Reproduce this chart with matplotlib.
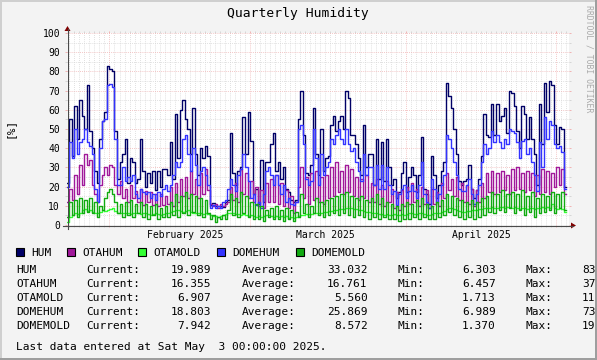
from __future__ import annotations
import datetime as dt
import matplotlib
matplotlib.use('Agg')
import matplotlib.pyplot as plt
import matplotlib.dates as mdates
from matplotlib.lines import Line2D
from matplotlib.patches import Polygon, Rectangle
import numpy as np

W, H = 597, 360
X0, Y0, XSIZE, YSIZE = 67, 225, 502, 192  # plot area in image pixels

start = dt.datetime(2025, 1, 23, 13)
end = dt.datetime(2025, 5, 3, 13)
data_start = dt.datetime(2025, 1, 23, 12)
step_hours = 12

hum = [
    22, 55, 36, 62, 45, 65, 57, 50, 73, 49,
    40, 28, 22, 45, 54, 59, 83, 81, 80, 49,
    24, 33, 37, 45, 22, 35, 33, 22, 24, 45,
    28, 20, 27, 22, 28, 18, 28, 20, 29, 29,
    26, 43, 24, 58, 35, 60, 65, 55, 50, 37,
    61, 37, 26, 40, 35, 41, 36, 10.6, 11.5, 10,
    10, 9.7, 9.5, 12, 13, 48, 27, 21, 28, 30,
    56, 37, 59, 44, 16, 19, 11, 34, 12, 33,
    33, 42, 48, 28, 33, 24, 30, 19, 17, 13,
    12, 13, 55, 70, 47, 27, 26, 31, 61, 37,
    26, 50, 28, 35, 36, 52, 57, 49, 54, 57,
    50, 70, 66, 47, 47, 42, 35, 26, 52, 30,
    37, 37, 21, 45, 24, 43, 23, 45, 30, 21,
    24, 14, 17, 27, 33, 17, 25, 30, 26, 17,
    26, 46, 19, 16, 11, 36, 26, 14, 21, 28,
    33, 74, 67, 61, 50, 37, 23, 21, 23, 24,
    31, 19, 14, 18, 24, 36, 58, 47, 46, 63,
    47, 63, 54, 57, 61, 48, 70, 69, 62, 49,
    40, 62, 58, 45, 56, 45, 37, 21, 63, 42,
    74, 59, 75, 73, 52, 42, 51, 50, 20]

otahum = [
    12, 19, 13, 26, 16, 31, 21, 37, 31, 34,
    21, 16, 12, 21, 26, 30, 26, 31, 30, 21,
    16, 23, 14, 19, 12, 21, 14, 17.5, 12, 19,
    10.6, 17.5, 12, 17, 10.6, 16, 10, 16, 10.6, 15,
    11, 20, 10, 22, 12, 24, 15, 25, 14, 28,
    16, 24, 14, 27, 16, 29, 18, 11, 10, 11,
    9, 11, 10, 11, 12, 20, 13, 22, 12, 29,
    16, 27, 14, 23, 12, 20, 10, 18, 9, 22,
    12, 24, 12, 26, 11, 22, 10, 18, 9, 15,
    6.5, 12, 20, 30, 14, 25, 11, 27, 13, 28,
    12, 25, 11, 26, 14, 30, 15, 33, 17, 28,
    16, 31, 17, 29, 15, 25, 13, 24, 14, 26,
    12, 22, 12, 24, 11, 21, 10, 23, 12, 19,
    9, 17, 8, 18, 10, 20, 11, 22, 12, 19,
    10, 20, 11, 18, 9, 19, 11, 17, 10, 22,
    14, 27, 18, 24, 15, 25, 13, 22, 12, 21,
    11, 19, 10, 18, 12, 22, 14, 27, 17, 28,
    16, 27, 17, 28, 18, 26, 16, 29, 18, 30,
    19, 27, 17, 28, 18, 27, 15, 26, 16, 29,
    17, 28, 16, 27, 20, 30, 21, 29, 16.4]

otamold = [
    1.8, 4, 5, 6, 5.5, 6.5, 8, 8.5, 7.5, 8,
    7, 6.5, 6, 7, 8, 7.5, 8, 8.5, 9, 7.5,
    6.5, 6, 6.5, 6, 6, 5.5, 6, 6.5, 6, 5.5,
    6, 6, 5.5, 5, 5.5, 6, 5.5, 5, 5.5, 6,
    6.5, 7, 7.5, 8, 8, 7.5, 7, 7.5, 8, 7,
    6.5, 6, 6.5, 6, 5.5, 6, 5.5, 5, 4.5, 4.5,
    4, 4.5, 5, 5.5, 6, 6.5, 6, 5.5, 5.5, 5,
    5.5, 5, 4.5, 5, 4.5, 4, 4.5, 4, 4.5, 5,
    5, 4.5, 4, 4.5, 4, 4.5, 4, 4.5, 3.5, 4,
    3.5, 4, 4.5, 5, 5, 5.5, 5.5, 5.5, 6, 6,
    6.5, 6.5, 7, 7, 7.5, 7.5, 8, 8, 8.5, 8.5,
    8.5, 9, 9, 9, 8.5, 8.5, 8, 8, 7.5, 7,
    7, 6.5, 6, 6, 5.5, 5.5, 5, 5.5, 5, 5,
    5.5, 5, 5, 5.5, 5, 5.5, 6, 6, 5.5, 5.5,
    6, 6, 5.5, 5, 5, 5.5, 6, 6, 6.5, 7,
    7.5, 8.5, 9, 9, 8.5, 8, 7.5, 7, 7, 7.5,
    7.5, 8, 8, 8, 8.5, 8.5, 9, 9, 9, 9.5,
    9, 9, 9.5, 9.5, 9, 9.5, 9.5, 9, 9.5, 9,
    8.5, 9, 9, 8.5, 9, 9, 8.5, 9, 9, 9.5,
    9, 9.5, 9, 11, 9, 8.5, 9, 8.5, 6.9]

domehum = [
    20, 43, 35, 50, 37, 43, 45, 50, 43, 41,
    37, 19, 12, 40, 54, 55, 73, 73.4, 72, 45,
    21, 21, 30, 23, 25, 23, 26, 16, 14, 19,
    17, 16, 17, 14, 16, 13, 17, 15, 19, 21,
    17.5, 21, 26, 33, 30, 33, 45, 47, 37, 28,
    40, 31, 21, 28, 30, 26, 21, 9, 10.6, 9,
    9.7, 9, 12, 13, 19, 24, 21, 17.5, 26, 29,
    37, 30, 23, 14, 16, 10.6, 12, 9, 16, 28,
    30, 26, 21, 26, 21, 16, 21, 12, 14, 11,
    10.6, 12, 50, 52, 42, 24, 21, 23, 50, 35,
    21, 37, 26, 30, 33, 45, 42, 47, 50, 45,
    42, 50, 42, 38.5, 40, 33, 28, 23, 37, 26,
    30, 30, 21, 31, 19, 31, 19, 30, 21, 16,
    17.5, 10.6, 16, 19, 21, 14, 17.5, 21, 17.5, 14,
    21, 33, 16, 12, 9, 24, 19, 12, 16, 21,
    26, 47, 45, 40, 33, 26, 19, 17.5, 17.5, 21,
    24, 16, 11, 16, 21, 33, 42, 37, 40, 49,
    43, 47, 43, 40, 45, 42, 50, 49, 48, 43,
    35, 44, 45, 37, 40, 33, 26, 17.5, 43, 30,
    56, 45, 54, 52, 42, 40, 41, 38, 18.8]

domemold = [
    4, 12, 5, 13, 4, 14, 6, 13, 7, 14,
    6, 12, 4, 10, 8, 14, 17, 19, 16, 12,
    6, 11, 4, 12, 5, 13, 4, 11, 6, 12,
    4, 11, 3, 10, 5, 11, 3, 9, 4, 10,
    4, 12, 5, 16, 4, 15, 6, 17, 5, 16,
    7, 15, 5, 14, 4, 13, 6, 3, 5, 1.4,
    4, 3, 5, 3, 8, 16, 5, 14, 4, 17,
    6, 15, 4, 12, 3, 11, 3, 10, 2, 8,
    4, 9, 3, 10, 3, 8, 2, 9, 3, 8,
    2, 7, 4, 16, 6, 11, 4, 10, 6, 14,
    5, 12, 4, 13, 5, 14, 6, 15, 5, 16,
    6, 17, 5, 15, 4, 14, 5, 15, 4, 13,
    3, 14, 4, 16, 3, 14, 4, 12, 3, 11,
    3, 10, 2, 11, 3, 12, 3, 11, 4, 13,
    3, 14, 4, 11, 3, 10, 3, 12, 4, 13,
    5, 16, 7, 15, 5, 14, 4, 13, 3, 12,
    4, 13, 3, 12, 4, 14, 5, 15, 7, 17,
    6, 16, 8, 18, 7, 16, 9, 17, 6, 16,
    8, 18, 5, 15, 7, 17, 4, 14, 6, 16,
    7, 15, 8, 17, 6, 16, 9, 17, 7.9]

names = ['HUM', 'OTAHUM', 'OTAMOLD', 'DOMEHUM', 'DOMEMOLD']
colors = ['#000066', '#a0189a', '#33ff33', '#3333ff', '#11aa11']
current = ['19.989', '16.355', '6.907', '18.803', '7.942']
average = ['33.032', '16.761', '5.560', '25.869', '8.572']
minimum = ['6.303', '6.457', '1.713', '6.989', '1.370']
maximum = ['83', '37', '11', '73', '19']  # cut off by the image edge

y_ticks = [0, 10, 20, 30, 40, 50, 60, 70, 80, 90, 100]
month_labels = ['February 2025', 'March 2025', 'April 2025']
month_label_dates = [dt.datetime(2025, 2, 16), dt.datetime(2025, 3, 16), dt.datetime(2025, 4, 16)]

GRID = '#d6d6d6'
MGRID = '#f0b4b4'
AXIS = '#4a4a4a'
ARROW = '#800000'


def fx(px):
    return px / W


def fy(py):
    return 1 - py / H


plt.rcParams['font.family'] = 'DejaVu Sans Mono'
fig = plt.figure(figsize=(W / 100, H / 100), dpi=100, facecolor='#f3f3f3')
ax = fig.add_axes([fx(X0), fy(Y0), XSIZE / W, YSIZE / H])
ax.set_facecolor('white')
for s in ax.spines.values():
    s.set_visible(False)
ax.set_xlim(mdates.date2num(start), mdates.date2num(end))
ax.set_ylim(0, 100)

# grid: dotted inside, short solid ticks outside (rrdtool style)
xt = ax.get_xaxis_transform()
yt = ax.get_yaxis_transform()
ey, ex = 2 / YSIZE, 2 / XSIZE
days = mdates.drange(dt.datetime(2025, 1, 24), dt.datetime(2025, 5, 4), dt.timedelta(days=1))
months = mdates.date2num([dt.datetime(2025, m, 1) for m in (2, 3, 4, 5)])
minor_days = days[~np.isin(days, months)]


def vgrid(xs, color):
    ax.vlines(xs, 0, 1, transform=xt, colors=color, lw=0.6, linestyles=(0, (1, 1.5)), zorder=1)
    ax.vlines(xs, -ey, 0, transform=xt, colors=color, lw=0.72, clip_on=False, zorder=1)
    ax.vlines(xs, 1, 1 + ey, transform=xt, colors=color, lw=0.72, clip_on=False, zorder=1)


def hgrid(ys, color):
    ax.hlines(ys, 0, 1, transform=yt, colors=color, lw=0.6, linestyles=(0, (1, 1.5)), zorder=1)
    ax.hlines(ys, -ex, 0, transform=yt, colors=color, lw=0.72, clip_on=False, zorder=1)
    ax.hlines(ys, 1, 1 + ex, transform=yt, colors=color, lw=0.72, clip_on=False, zorder=1)


vgrid(minor_days, GRID)
hgrid(np.arange(5, 100, 10), GRID)
vgrid(months, MGRID)
hgrid(y_ticks, MGRID)

# data
t0 = mdates.date2num(data_start)
for vals, c in zip([hum, otahum, otamold, domehum, domemold], colors):
    v = np.asarray(vals, dtype=float)
    xs = t0 + np.arange(len(v) + 1) * step_hours / 24
    ax.step(xs, np.append(v, v[-1]), where='post', color=c, lw=1.0, zorder=3)

ax.set_yticks(y_ticks)
ax.set_yticklabels([str(v) for v in y_ticks])
ax.set_xticks(mdates.date2num(month_label_dates))
ax.set_xticklabels(month_labels)
ax.tick_params(length=0, labelsize=7, colors='black')
ax.tick_params(axis='y', pad=5)
ax.tick_params(axis='x', pad=3.8)

# axes with arrows
fig.add_artist(Line2D([fx(X0 - 4), fx(X0 + XSIZE + 4)], [fy(Y0 + 0.5)] * 2, color=AXIS, lw=0.8))
fig.add_artist(Line2D([fx(X0 + 0.5)] * 2, [fy(Y0 + 4), fy(Y0 - YSIZE - 4)], color=AXIS, lw=0.8))
fig.add_artist(Polygon([(fx(X0 + XSIZE + 2), fy(Y0 - 2.5)), (fx(X0 + XSIZE + 2), fy(Y0 + 3.5)),
                        (fx(X0 + XSIZE + 7), fy(Y0 + 0.5))], closed=True, color=ARROW, lw=0))
fig.add_artist(Polygon([(fx(X0 - 2.5), fy(Y0 - YSIZE - 2)), (fx(X0 + 3.5), fy(Y0 - YSIZE - 2)),
                        (fx(X0 + 0.5), fy(Y0 - YSIZE - 7))], closed=True, color=ARROW, lw=0))

# texts
fig.text(fx(298), fy(13.5), 'Quarterly Humidity', ha='center', va='center', fontsize=9.4)
fig.text(fx(10), fy(128), '[%]', rotation=90, ha='center', va='center', fontsize=8)
fig.text(fx(589.5), fy(5), 'RRDTOOL / TOBI OETIKER', rotation=270, ha='center', va='top',
         fontsize=5.9, color='#aaaaaa')

# legend
box_x = [16, 67, 138, 217, 296]
text_x = [31, 82, 153, 232, 311]
for bx, tx, name, c in zip(box_x, text_x, names, colors):
    fig.add_artist(Rectangle((fx(bx), fy(256)), 8 / W, 8 / H, facecolor=c, edgecolor='black', lw=0.8))
    fig.text(fx(tx), fy(252.5), name, ha='left', va='center', fontsize=8)

row_y = [270.3, 284.2, 298.2, 312.2, 326.2]
for y, name, cur, avg, mn, mx in zip(row_y, names, current, average, minimum, maximum):
    fig.text(fx(16), fy(y), name, ha='left', va='center', fontsize=8)
    fig.text(fx(86.7), fy(y), 'Current:', ha='left', va='center', fontsize=8)
    fig.text(fx(211), fy(y), cur, ha='right', va='center', fontsize=8)
    fig.text(fx(242), fy(y), 'Average:', ha='left', va='center', fontsize=8)
    fig.text(fx(367.7), fy(y), avg, ha='right', va='center', fontsize=8)
    fig.text(fx(397.7), fy(y), 'Min:', ha='left', va='center', fontsize=8)
    fig.text(fx(495.7), fy(y), mn, ha='right', va='center', fontsize=8)
    fig.text(fx(525.7), fy(y), 'Max:', ha='left', va='center', fontsize=8)
    fig.text(fx(582), fy(y), mx, ha='left', va='center', fontsize=8)

fig.text(fx(16), fy(347), 'Last data entered at Sat May  3 00:00:00 2025.', ha='left', va='center', fontsize=8)

# image border shading
fig.add_artist(Line2D([0, 1], [fy(1), fy(1)], color='#cfcfcf', lw=1.44))
fig.add_artist(Line2D([fx(1), fx(1)], [0, 1], color='#cfcfcf', lw=1.44))
fig.add_artist(Line2D([0, 1], [fy(359), fy(359)], color='#9e9e9e', lw=1.44))
fig.add_artist(Line2D([fx(596), fx(596)], [0, 1], color='#9e9e9e', lw=1.44))

fig.savefig('out.png', dpi=100, facecolor=fig.get_facecolor())
